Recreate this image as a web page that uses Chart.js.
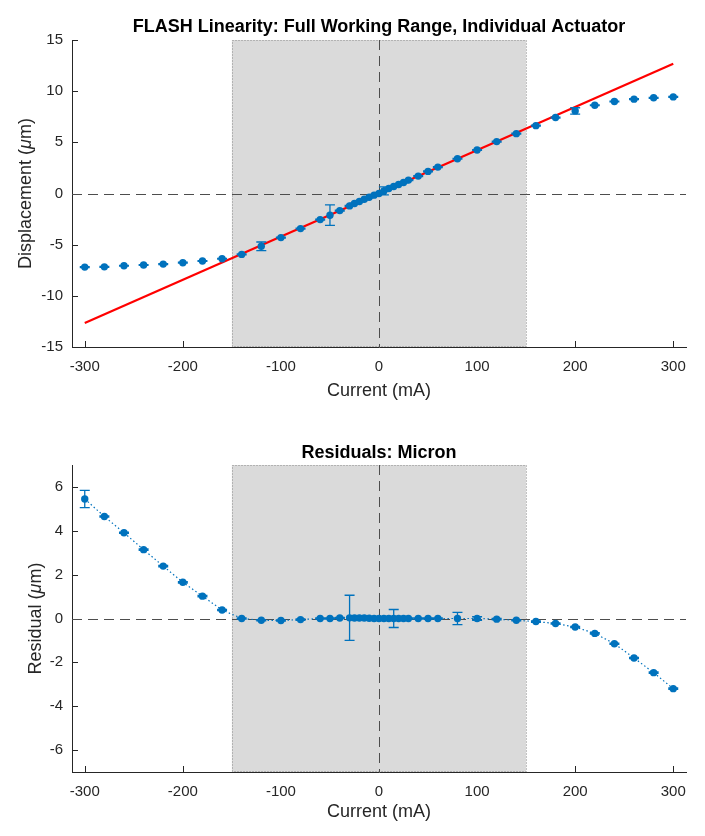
<!DOCTYPE html>
<html>
<head>
<meta charset="utf-8">
<script src="https://cdn.jsdelivr.net/npm/chart.js@4.4.1/dist/chart.umd.min.js"></script>
<style>
  html, body { margin: 0; padding: 0; background: #ffffff; }
  #wrap { position: relative; width: 705px; height: 836px; }
  canvas { position: absolute; left: 0; }
  #c1 { top: 0; }
  #c2 { top: 418px; }
</style>
</head>
<body>
<div id="wrap">
  <canvas id="c1" width="705" height="418"></canvas>
  <canvas id="c2" width="705" height="418"></canvas>
</div>
<script>
// ---------------- DATA ----------------
const currents = [-300,-280,-260,-240,-220,-200,-180,-160,-140,-120,-100,-80,-60,-50,-40,-30,-25,-20,-15,-10,-5,0,5,10,15,20,25,30,40,50,60,80,100,120,140,160,180,200,220,240,260,280,300];
const displacement = [-7.19,-7.17,-7.06,-6.99,-6.90,-6.76,-6.60,-6.37,-5.95,-5.16,-4.31,-3.43,-2.55,-2.12,-1.67,-1.21,-0.98,-0.78,-0.56,-0.36,-0.16,0.00,0.25,0.49,0.69,0.88,1.08,1.31,1.70,2.16,2.58,3.40,4.25,5.07,5.85,6.63,7.42,8.07,8.63,8.99,9.22,9.35,9.44];
const displacementErr = [0.04,0.04,0.04,0.04,0.04,0.04,0.04,0.04,0.04,0.42,0.04,0.04,0.04,1.00,0.04,0.04,0.04,0.04,0.04,0.04,0.04,0.04,0.39,0.04,0.04,0.04,0.04,0.04,0.04,0.04,0.04,0.04,0.04,0.04,0.04,0.04,0.04,0.31,0.04,0.04,0.04,0.04,0.04];
const fitCurrents = [-300, 300];
const fitDisplacement = [-12.65, 12.68];
const residuals = [5.45,4.65,3.91,3.14,2.39,1.65,1.02,0.39,0.00,-0.08,-0.09,-0.05,0.00,0.00,0.02,0.03,0.02,0.02,0.02,0.01,0.00,0.00,0.00,0.00,0.00,0.00,0.00,0.00,0.00,0.00,0.00,0.00,0.00,-0.03,-0.08,-0.14,-0.23,-0.39,-0.68,-1.15,-1.80,-2.47,-3.20];
const residualErr = [0.39,0.03,0.03,0.03,0.03,0.03,0.03,0.03,0.03,0.03,0.03,0.03,0.03,0.03,0.03,1.03,0.03,0.03,0.03,0.03,0.03,0.03,0.03,0.03,0.41,0.03,0.03,0.03,0.03,0.03,0.03,0.28,0.08,0.03,0.03,0.03,0.03,0.03,0.03,0.03,0.03,0.03,0.03];
const xTicks = [-300,-200,-100,0,100,200,300];
const yTicksTop = [-15,-10,-5,0,5,10,15];
const yTicksBottom = [-6,-4,-2,0,2,4,6];
const linearRange = [-150, 150];

// ---------------- STYLE ----------------
const BLUE = '#0072BD';
const AXIS = '#262626';
const FONT = "'Liberation Sans', Arial, Helvetica, sans-serif";

const decor = {
  id: 'decor',
  beforeDatasetsDraw(chart, args, opts) {
    const ctx = chart.ctx;
    const xs = chart.scales.x, ys = chart.scales.y;
    const a = chart.chartArea;
    ctx.save();
    // inward tick marks
    ctx.strokeStyle = AXIS; ctx.lineWidth = 1; ctx.setLineDash([]);
    xs.ticks.forEach(t => {
      const p = Math.round(xs.getPixelForValue(t.value)) + 0.5;
      ctx.beginPath(); ctx.moveTo(p, a.bottom); ctx.lineTo(p, a.bottom - 6); ctx.stroke();
    });
    ys.ticks.forEach(t => {
      const p = Math.round(ys.getPixelForValue(t.value)) + 0.5;
      ctx.beginPath(); ctx.moveTo(a.left, p); ctx.lineTo(a.left + 6, p); ctx.stroke();
    });
    // shaded linear range
    const x0 = xs.getPixelForValue(opts.shade[0]);
    const x1 = xs.getPixelForValue(opts.shade[1]);
    ctx.fillStyle = '#dadada';
    ctx.fillRect(x0, a.top, x1 - x0, a.bottom - a.top);
    ctx.strokeStyle = '#8a8a8a'; ctx.lineWidth = 1; ctx.setLineDash([1, 2]);
    ctx.strokeRect(Math.round(x0) + 0.5, Math.round(a.top) + 0.5, Math.round(x1 - x0), Math.round(a.bottom - a.top) - 1);
    // zero lines
    ctx.strokeStyle = '#4d4d4d'; ctx.setLineDash([10, 6]);
    const zy = Math.round(ys.getPixelForValue(0)) + 0.5;
    ctx.beginPath(); ctx.moveTo(a.left, zy); ctx.lineTo(a.right, zy); ctx.stroke();
    const zx = Math.round(xs.getPixelForValue(0)) + 0.5;
    ctx.beginPath(); ctx.moveTo(zx, a.top); ctx.lineTo(zx, a.bottom); ctx.stroke();
    ctx.restore();
  },
  afterDatasetsDraw(chart, args, opts) {
    const ctx = chart.ctx;
    const xs = chart.scales.x, ys = chart.scales.y;
    const ds = chart.data.datasets[0].data;
    ctx.save();
    ctx.strokeStyle = BLUE; ctx.lineWidth = 1.3; ctx.setLineDash([]);
    ds.forEach((pt, i) => {
      const e = opts.errors[i];
      const px = xs.getPixelForValue(pt.x);
      const y1 = ys.getPixelForValue(pt.y - e);
      const y2 = ys.getPixelForValue(pt.y + e);
      ctx.beginPath();
      ctx.moveTo(px, y1); ctx.lineTo(px, y2);
      ctx.moveTo(px - 5, y1); ctx.lineTo(px + 5, y1);
      ctx.moveTo(px - 5, y2); ctx.lineTo(px + 5, y2);
      ctx.stroke();
    });
    ctx.restore();
  },
  afterDraw(chart, args, opts) {
    // y-axis title with italic mu (TeX style)
    const ctx = chart.ctx;
    const a = chart.chartArea;
    const parts = opts.yTitleParts;
    const fonts = parts.map(p => (p.italic ? 'italic ' : '') + '18px ' + FONT);
    ctx.save();
    let total = 0;
    const widths = parts.map((p, i) => { ctx.font = fonts[i]; const w = ctx.measureText(p.text).width; total += w; return w; });
    ctx.translate(opts.yTitleX, (a.top + a.bottom) / 2);
    ctx.rotate(-Math.PI / 2);
    ctx.fillStyle = AXIS;
    ctx.textBaseline = 'middle';
    ctx.textAlign = 'left';
    let x = -total / 2;
    parts.forEach((p, i) => { ctx.font = fonts[i]; ctx.fillText(p.text, x, 0); x += widths[i]; });
    ctx.restore();
  }
};

function makeChart(id, cfg) {
  const pts = currents.map((c, i) => ({x: c, y: cfg.values[i]}));
  const datasets = [{
    data: pts,
    showLine: cfg.connect,
    borderColor: BLUE,
    borderWidth: 1.2,
    borderDash: [1.5, 2.5],
    pointRadius: 3.7,
    pointBackgroundColor: BLUE,
    pointBorderColor: BLUE,
    pointBorderWidth: 0,
    pointHoverRadius: 3.7
  }];
  if (cfg.fit) {
    datasets.push({
      data: fitCurrents.map((c, i) => ({x: c, y: fitDisplacement[i]})),
      showLine: true,
      borderColor: '#ff0000',
      borderWidth: 2.2,
      pointRadius: 0
    });
  }
  return new Chart(document.getElementById(id), {
    type: 'scatter',
    data: { datasets },
    plugins: [decor],
    options: {
      responsive: false,
      animation: false,
      layout: { padding: { left: 0, right: 19, top: 0, bottom: 0 } },
      plugins: {
        legend: { display: false },
        tooltip: { enabled: false },
        title: {
          display: true,
          text: cfg.title,
          fullSize: false,
          color: '#000000',
          font: { family: FONT, size: 18, weight: 'bold', lineHeight: 1.2 },
          padding: { top: cfg.titlePadTop, bottom: cfg.titlePadBottom }
        },
        decor: { errors: cfg.errors, shade: linearRange, yTitleParts: cfg.yTitleParts, yTitleX: cfg.yTitleX }
      },
      scales: {
        x: {
          type: 'linear',
          min: -313, max: 313,
          afterBuildTicks: s => { s.ticks = xTicks.map(v => ({value: v})); },
          afterFit: s => { s.height = cfg.xAxisHeight; },
          grid: { display: false, drawTicks: false },
          border: { display: true, color: AXIS, width: 1 },
          ticks: { color: AXIS, padding: 11, maxRotation: 0, font: { family: FONT, size: 15 } },
          title: { display: true, text: 'Current (mA)', color: AXIS, font: { family: FONT, size: 18 }, padding: { top: 0, bottom: cfg.xTitlePadBottom } }
        },
        y: {
          type: 'linear',
          min: cfg.yMin, max: cfg.yMax,
          afterBuildTicks: s => { s.ticks = cfg.yTicks.map(v => ({value: v})); },
          afterFit: s => { s.width = 72; },
          grid: { display: false, drawTicks: false },
          border: { display: true, color: AXIS, width: 1 },
          ticks: { color: AXIS, padding: 9, font: { family: FONT, size: 15 } },
          title: { display: false }
        }
      }
    }
  });
}

makeChart('c1', {
  values: displacement, errors: displacementErr, connect: false, fit: true,
  title: 'FLASH Linearity: Full Working Range, Individual Actuator',
  titlePadTop: 16, titlePadBottom: 2.4,
  xAxisHeight: 71, xTitlePadBottom: 16,
  yMin: -15, yMax: 15, yTicks: yTicksTop,
  yTitleParts: [{text: 'Displacement ('}, {text: '\u03bc', italic: true}, {text: 'm)'}], yTitleX: 26
});
makeChart('c2', {
  values: residuals, errors: residualErr, connect: true, fit: false,
  title: 'Residuals: Micron',
  titlePadTop: 24.5, titlePadBottom: 0.9,
  xAxisHeight: 64, xTitlePadBottom: 13,
  yMin: -7, yMax: 7, yTicks: yTicksBottom,
  yTitleParts: [{text: 'Residual ('}, {text: '\u03bc', italic: true}, {text: 'm)'}], yTitleX: 36
});
</script>
</body>
</html>
